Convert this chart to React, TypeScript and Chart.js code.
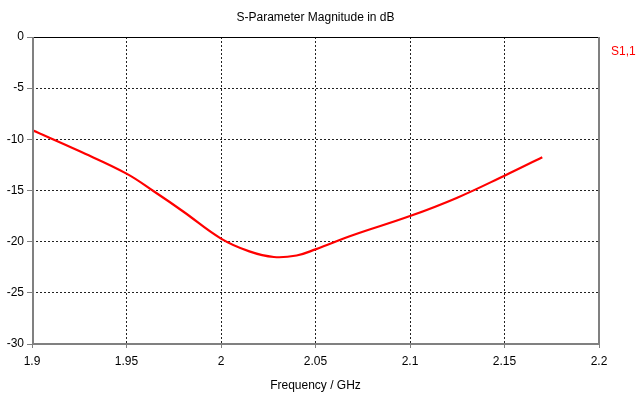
import React, { useEffect, useRef } from "react";
import { Chart, registerables } from "chart.js";

Chart.register(...registerables);

const chartTitle = "S-Parameter Magnitude in dB";
const xAxisTitle = "Frequency / GHz";
const seriesLabel = "S1,1";

const frequencies = [
  1.9, 1.925, 1.95, 1.965, 1.98, 2.0, 2.015, 2.028, 2.04, 2.05, 2.07, 2.1,
  2.125, 2.15, 2.17,
];
const s11dB = [
  -9.1, -11.15, -13.35, -15.15, -17.05, -19.7, -20.95, -21.5, -21.35, -20.75,
  -19.35, -17.5, -15.7, -13.55, -11.75,
];

const xMin = 1.9;
const xMax = 2.2;
const xStep = 0.05;
const yMin = -30;
const yMax = 0;
const yStep = 5;

const FONT = "'Liberation Sans', Arial, sans-serif";

const framePlugin = {
  id: "frame",
  afterDraw(chart: any) {
    const { ctx, chartArea } = chart;
    const { left, right, top, bottom } = chartArea;
    ctx.save();
    ctx.strokeStyle = "#000";
    ctx.lineWidth = 1;
    ctx.beginPath();
    ctx.moveTo(left, Math.round(top) + 0.5);
    ctx.lineTo(right, Math.round(top) + 0.5);
    ctx.stroke();
    ctx.strokeStyle = "#808080";
    ctx.lineWidth = 2;
    ctx.beginPath();
    ctx.moveTo(left + 1, top);
    ctx.lineTo(left + 1, bottom);
    ctx.moveTo(left, bottom);
    ctx.lineTo(right, bottom);
    ctx.moveTo(right, top);
    ctx.lineTo(right, bottom + 1);
    ctx.stroke();

    ctx.fillStyle = "#000";
    ctx.font = `12px ${FONT}`;
    ctx.textAlign = "center";
    ctx.textBaseline = "middle";
    const cx = (left + right) / 2;
    ctx.fillText(chartTitle, cx, 18);
    ctx.fillText(xAxisTitle, cx, 386);

    ctx.fillStyle = "#ff0000";
    ctx.textAlign = "left";
    ctx.fillText(chart.data.datasets[0].label, right + 12, top + 15);
    ctx.restore();
  },
};

export default function App() {
  const canvasRef = useRef<HTMLCanvasElement | null>(null);

  useEffect(() => {
    const canvas = canvasRef.current;
    if (!canvas) return;
    const chart = new Chart(canvas, {
      type: "line",
      data: {
        datasets: [
          {
            label: seriesLabel,
            data: frequencies.map((f, i) => ({ x: f, y: s11dB[i] })),
            borderColor: "#ff0000",
            backgroundColor: "#ff0000",
            borderWidth: 2.2,
            pointRadius: 0,
            tension: 0.4,
            fill: false,
          },
        ],
      },
      options: {
        animation: false,
        responsive: false,
        devicePixelRatio: 1,
        layout: { padding: { top: 37, right: 39, left: 0, bottom: 0 } },
        plugins: {
          legend: { display: false },
          title: { display: false },
          tooltip: { enabled: false },
        },
        scales: {
          x: {
            type: "linear",
            min: xMin,
            max: xMax,
            afterFit(scale: any) {
              scale.height = 52;
            },
            border: { display: false, dash: [2, 2] },
            grid: {
              color: "#222",
              lineWidth: 1,
              tickLength: 4,
              tickColor: "#808080",
              tickWidth: 1,
              tickBorderDash: [],
            },
            ticks: {
              stepSize: xStep,
              color: "#000",
              font: { family: FONT, size: 12 },
              padding: 6,
              maxRotation: 0,
              autoSkip: false,
              callback: (v: any) => String(Number(Number(v).toFixed(2))),
            },
          },
          y: {
            type: "linear",
            min: yMin,
            max: yMax,
            afterFit(scale: any) {
              scale.width = 32;
            },
            border: { display: false, dash: [2, 2] },
            grid: {
              color: "#222",
              lineWidth: 1,
              tickLength: 5,
              tickColor: "#808080",
              tickWidth: 1,
              tickBorderDash: [],
            },
            ticks: {
              stepSize: yStep,
              color: "#000",
              font: { family: FONT, size: 12 },
              padding: 3,
              autoSkip: false,
              callback: (v: any) => String(Number(v)),
            },
          },
        },
      },
      plugins: [framePlugin],
    } as any);
    return () => chart.destroy();
  }, []);

  return (
    <div style={{ position: "absolute", left: 0, top: 0, width: 638, height: 396, background: "#fff" }}>
      <canvas ref={canvasRef} width={638} height={396} style={{ width: 638, height: 396 }} />
    </div>
  );
}
